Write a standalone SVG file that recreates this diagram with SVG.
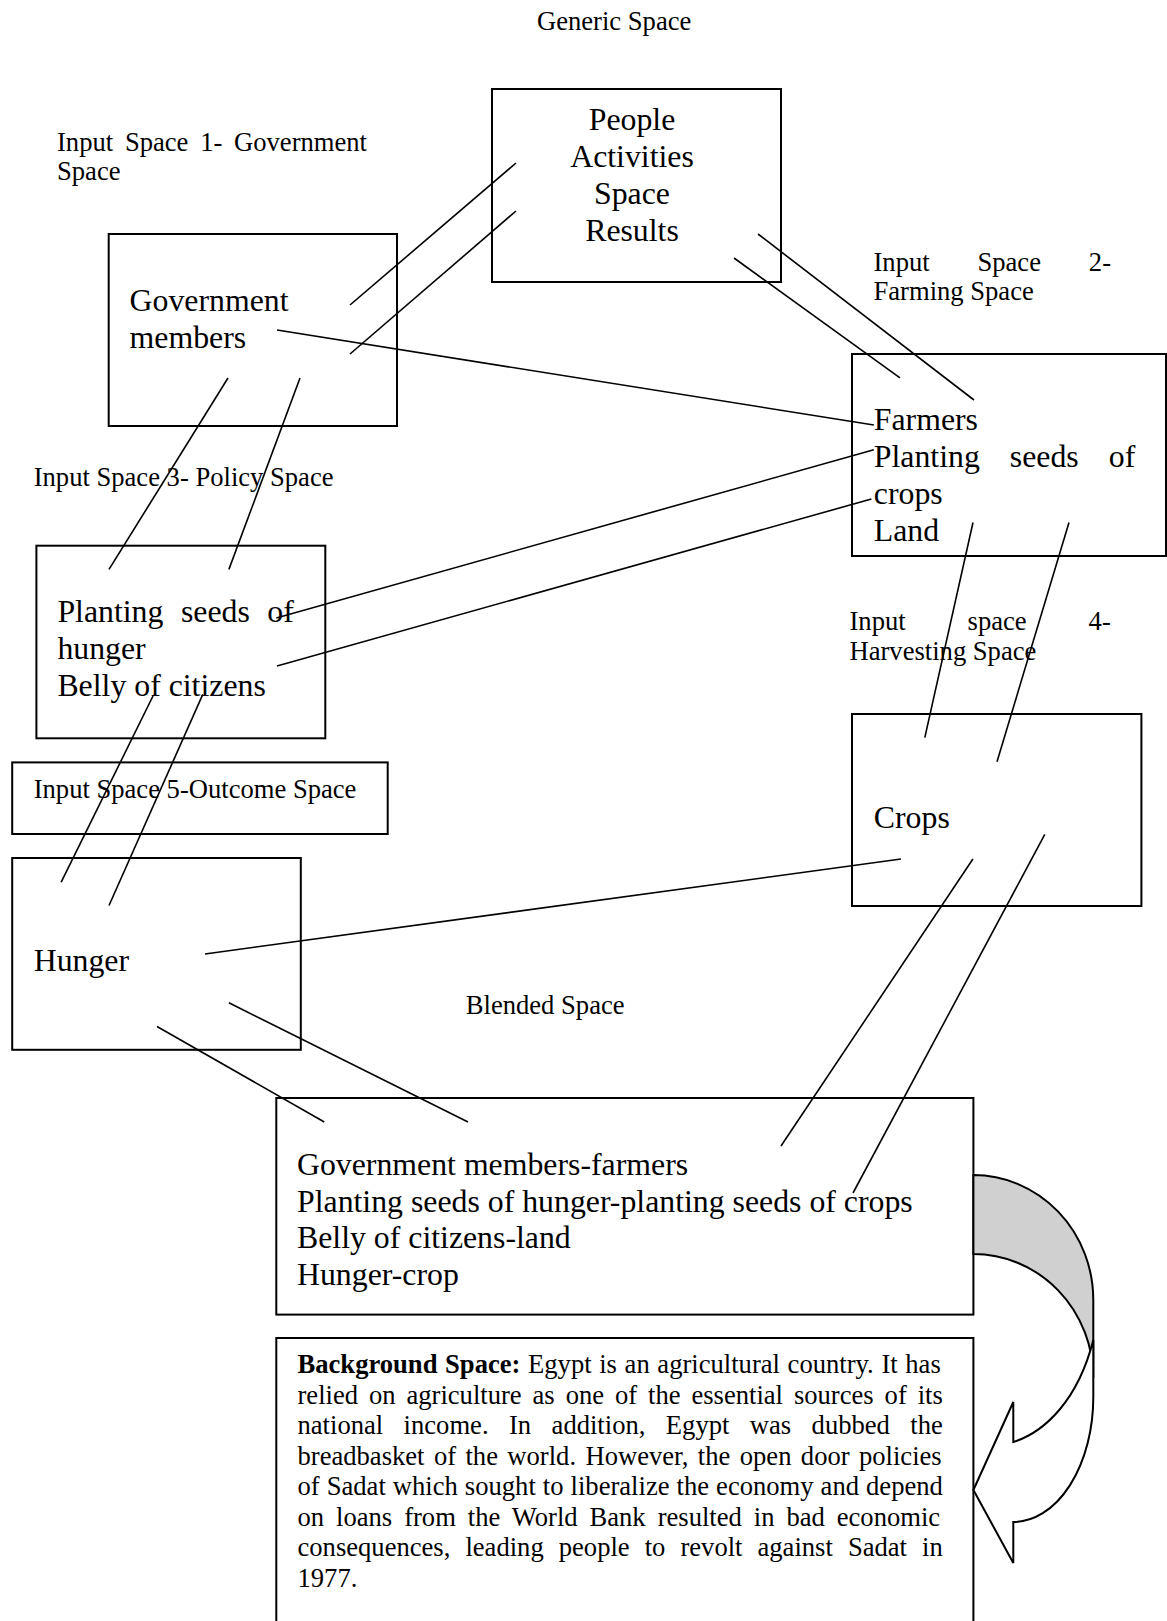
<svg xmlns="http://www.w3.org/2000/svg" width="1167" height="1621" viewBox="0 0 1167 1621">
  <style>
    text { font-family: "Liberation Serif", "Times New Roman", serif; fill: #000; }
    .sm { font-size: 26.6px; }
    .lg { font-size: 31.8px; }
    .box { fill: #fff; stroke: #000; stroke-width: 2; }
    .link { stroke: #000; stroke-width: 1.6; fill: none; stroke-linecap: butt; }
    .bold { font-weight: bold; }
  </style>
  <rect width="1167" height="1621" fill="#fff"/>

  <!-- free labels -->
  <g id="labels">
    <text class="sm" x="537" y="29.5">Generic Space</text>
    <text class="sm" x="57" y="151" word-spacing="5.1">Input Space 1- Government</text>
    <text class="sm" x="57" y="180">Space</text>
    <text class="sm" x="873.5" y="271" word-spacing="41.2">Input Space 2-</text>
    <text class="sm" x="873.5" y="300">Farming Space</text>
    <text class="sm" x="33.7" y="486">Input Space 3- Policy Space</text>
    <text class="sm" x="849.5" y="630" word-spacing="55.3">Input space 4-</text>
    <text class="sm" x="849.5" y="660">Harvesting Space</text>
    <text class="sm" x="465.8" y="1013.5">Blended Space</text>
  </g>

  <!-- generic space -->
  <g id="generic">
    <rect class="box" x="492" y="89" width="289" height="193"/>
    <text class="lg" x="632" y="130" text-anchor="middle">People</text>
    <text class="lg" x="632" y="167" text-anchor="middle">Activities</text>
    <text class="lg" x="632" y="203.5" text-anchor="middle">Space</text>
    <text class="lg" x="632" y="240.5" text-anchor="middle">Results</text>
  </g>

  <!-- input space 1: government -->
  <g id="government">
    <rect class="box" x="108.7" y="234" width="288.3" height="192"/>
    <text class="lg" x="129.6" y="311">Government</text>
    <text class="lg" x="129.6" y="347.5">members</text>
  </g>

  <!-- input space 2: farming -->
  <g id="farming">
    <rect class="box" x="852" y="354" width="314" height="202"/>
    <text class="lg" x="873.8" y="430">Farmers</text>
    <text class="lg" x="873.8" y="467" word-spacing="22.1">Planting seeds of</text>
    <text class="lg" x="873.8" y="504">crops</text>
    <text class="lg" x="873.8" y="541">Land</text>
  </g>

  <!-- input space 3: policy -->
  <g id="policy">
    <rect class="box" x="36.4" y="545.7" width="288.9" height="192.6"/>
    <text class="lg" x="57.4" y="622" word-spacing="9.6">Planting seeds of</text>
    <text class="lg" x="57.4" y="659">hunger</text>
    <text class="lg" x="57.4" y="695.5">Belly of citizens</text>
  </g>

  <!-- input space 4: harvesting -->
  <g id="harvesting">
    <rect class="box" x="852" y="714" width="289.4" height="192"/>
    <text class="lg" x="873.8" y="827.5">Crops</text>
  </g>

  <!-- input space 5: outcome -->
  <g id="outcome-label">
    <rect class="box" x="12.2" y="762.4" width="375.5" height="71.6"/>
    <text class="sm" x="33.7" y="798">Input Space 5-Outcome Space</text>
  </g>
  <g id="outcome">
    <rect class="box" x="12.2" y="858" width="288.6" height="191.8"/>
    <text class="lg" x="33.7" y="971">Hunger</text>
  </g>

  <!-- blended space -->
  <g id="blended">
    <rect class="box" x="276.3" y="1098" width="697.1" height="216.6"/>
    <text class="lg" x="297" y="1175">Government members-farmers</text>
    <text class="lg" x="297" y="1211.5">Planting seeds of hunger-planting seeds of crops</text>
    <text class="lg" x="297" y="1248">Belly of citizens-land</text>
    <text class="lg" x="297" y="1284.5">Hunger-crop</text>
  </g>

  <!-- background space -->
  <g id="background">
    <rect class="box" x="276.3" y="1338" width="697.1" height="320"/>
    <text class="sm" x="297.5" y="1373.3" word-spacing="1.0"><tspan class="bold">Background Space:</tspan> Egypt is an agricultural country. It has</text>
    <text class="sm" x="297.5" y="1403.8" word-spacing="4.27">relied on agriculture as one of the essential sources of its</text>
    <text class="sm" x="297.5" y="1434.3" word-spacing="13.8">national income. In addition, Egypt was dubbed the</text>
    <text class="sm" x="297.5" y="1464.8" word-spacing="2.75">breadbasket of the world. However, the open door policies</text>
    <text class="sm" x="297.5" y="1495.3" word-spacing="0.4">of Sadat which sought to liberalize the economy and depend</text>
    <text class="sm" x="297.5" y="1525.8" word-spacing="5.31">on loans from the World Bank resulted in bad economic</text>
    <text class="sm" x="297.5" y="1556.3" word-spacing="8.41">consequences, leading people to revolt against Sadat in</text>
    <text class="sm" x="297.5" y="1586.8">1977.</text>
  </g>

  <!-- curved arrow from blended space down to background space -->
  <g id="curved-arrow" stroke="#000" stroke-width="2" stroke-linejoin="miter">
    <!-- shaded back of the ribbon -->
    <path d="M 973.4 1175 A 120 125 0 0 1 1093.3 1300 L 1093.3 1378 A 120 124 0 0 0 973.4 1254 Z" fill="#d0d0d0"/>
    <!-- front of the ribbon with the arrowhead -->
    <path d="M 1093.3 1340 L 1093.3 1397 A 80 125 0 0 1 1013.3 1522 L 1013.3 1563 L 973.4 1490 L 1013.3 1402 L 1013.3 1442 C 1045 1432 1078 1400 1093.3 1340 Z" fill="#fff"/>
  </g>

  <!-- mapping connectors -->
  <g id="connectors" class="link">
    <line class="link" x1="350" y1="305" x2="516" y2="163"/>
    <line class="link" x1="350" y1="354" x2="516" y2="211"/>
    <line class="link" x1="277" y1="330" x2="873.8" y2="425"/>
    <line class="link" x1="758" y1="234" x2="974" y2="400"/>
    <line class="link" x1="734" y1="258" x2="900" y2="377.8"/>
    <line class="link" x1="228" y1="378" x2="109" y2="569.4"/>
    <line class="link" x1="300" y1="378" x2="228.9" y2="569.4"/>
    <line class="link" x1="873.8" y1="449.8" x2="276.3" y2="618"/>
    <line class="link" x1="871.4" y1="499" x2="277" y2="666"/>
    <line class="link" x1="973" y1="522.5" x2="924.8" y2="737.6"/>
    <line class="link" x1="1069" y1="522.5" x2="997" y2="761.7"/>
    <line class="link" x1="153" y1="696" x2="61.2" y2="882.2"/>
    <line class="link" x1="202.8" y1="694.4" x2="109" y2="905.5"/>
    <line class="link" x1="901" y1="859" x2="205" y2="954"/>
    <line class="link" x1="157" y1="1026.5" x2="324.3" y2="1122"/>
    <line class="link" x1="228.9" y1="1002.8" x2="468" y2="1122"/>
    <line class="link" x1="972.9" y1="859" x2="781" y2="1146"/>
    <line class="link" x1="1044.8" y1="834.4" x2="853" y2="1193"/>
  </g>
</svg>
